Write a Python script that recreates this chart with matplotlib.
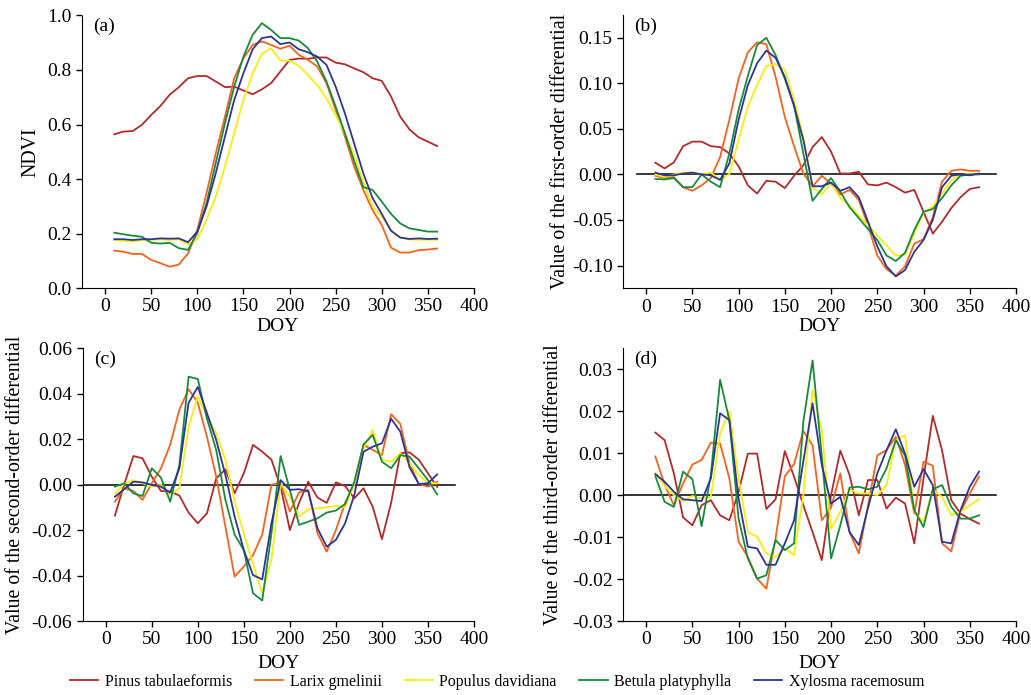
import numpy as np
import matplotlib
matplotlib.use('Agg')
from matplotlib import pyplot as plt
from matplotlib.ticker import FormatStrFormatter, MultipleLocator

plt.rcParams['font.family'] = ['Liberation Serif', 'DejaVu Serif']

doy = [10, 20, 30, 40, 50, 60, 70, 80, 90, 100, 110, 120, 130, 140, 150, 160, 170, 180,
       190, 200, 210, 220, 230, 240, 250, 260, 270, 280, 290, 300, 310, 320, 330, 340, 350, 360]

species = ['Pinus tabulaeformis', 'Larix gmelinii', 'Populus davidiana',
           'Betula platyphylla', 'Xylosma racemosum']
colors = ['#B22A2A', '#F4621F', '#F8EC10', '#188A3C', '#2E3595']

############################ (a) NDVI ############################
ndvi_pinus = [0.564, 0.574, 0.576, 0.599, 0.635, 0.668, 0.709, 0.737, 0.770, 0.778, 0.778, 0.758,
              0.737, 0.739, 0.725, 0.711, 0.729, 0.752, 0.794, 0.837, 0.842, 0.841, 0.846, 0.846,
              0.827, 0.821, 0.806, 0.792, 0.770, 0.760, 0.703, 0.629, 0.582, 0.553, 0.537, 0.521]
ndvi_larix = [0.137, 0.133, 0.125, 0.125, 0.103, 0.091, 0.078, 0.086, 0.127, 0.213, 0.348, 0.494,
              0.629, 0.770, 0.843, 0.892, 0.905, 0.892, 0.878, 0.889, 0.856, 0.837, 0.813, 0.752,
              0.654, 0.556, 0.446, 0.360, 0.286, 0.231, 0.148, 0.130, 0.130, 0.139, 0.141, 0.145]
ndvi_populus = [0.176, 0.173, 0.170, 0.176, 0.176, 0.179, 0.176, 0.179, 0.160, 0.179, 0.250, 0.335,
                0.446, 0.568, 0.690, 0.788, 0.859, 0.880, 0.834, 0.834, 0.815, 0.782, 0.745, 0.696,
                0.635, 0.568, 0.488, 0.390, 0.299, 0.262, 0.213, 0.185, 0.178, 0.177, 0.177, 0.177]
ndvi_betula = [0.203, 0.197, 0.192, 0.188, 0.166, 0.163, 0.166, 0.146, 0.140, 0.201, 0.311, 0.458,
               0.605, 0.739, 0.849, 0.929, 0.972, 0.947, 0.917, 0.917, 0.908, 0.880, 0.831, 0.758,
               0.666, 0.568, 0.466, 0.370, 0.360, 0.317, 0.272, 0.237, 0.219, 0.213, 0.207, 0.207]
ndvi_xylosma = [0.179, 0.179, 0.176, 0.179, 0.179, 0.182, 0.181, 0.182, 0.168, 0.207, 0.299, 0.421,
                0.556, 0.690, 0.788, 0.876, 0.917, 0.923, 0.895, 0.901, 0.876, 0.865, 0.849, 0.819,
                0.739, 0.641, 0.531, 0.421, 0.330, 0.272, 0.210, 0.185, 0.180, 0.182, 0.180, 0.181]

############################ (b) first-order ############################
d1_pinus = [0.0128, 0.0066, 0.0132, 0.031, 0.036, 0.036, 0.031, 0.030, 0.023, 0.009, -0.012, -0.021,
            -0.007, -0.008, -0.015, -0.0015, 0.010, 0.030, 0.041, 0.025, 0.001, 0.001, 0.003, -0.011,
            -0.012, -0.009, -0.014, -0.020, -0.017, -0.041, -0.065, -0.052, -0.037, -0.025, -0.016, -0.014]
d1_larix = [-0.0015, -0.004, -0.003, -0.014, -0.018, -0.012, -0.004, 0.019, 0.060, 0.105, 0.134, 0.145,
            0.143, 0.107, 0.063, 0.031, 0.001, -0.013, -0.0015, -0.010, -0.022, -0.017, -0.028, -0.056,
            -0.089, -0.104, -0.111, -0.101, -0.076, -0.071, -0.047, -0.008, 0.004, 0.0055, 0.004, 0.004]
d1_populus = [0.0, -0.003, 0.0, 0.002, 0.002, 0.0004, 0.002, -0.006, 0.0004, 0.038, 0.074, 0.098,
              0.119, 0.121, 0.115, 0.082, 0.041, -0.014, -0.022, -0.009, -0.026, -0.034, -0.045, -0.056,
              -0.067, -0.078, -0.089, -0.088, -0.065, -0.042, -0.035, -0.021, -0.006, -0.001, 0.001, 0.0]
d1_betula = [-0.005, -0.0055, -0.004, -0.014, -0.014, 0.0, -0.008, -0.014, 0.023, 0.071, 0.108, 0.142,
             0.150, 0.131, 0.105, 0.076, 0.023, -0.029, -0.016, -0.004, -0.019, -0.036, -0.048, -0.060,
             -0.072, -0.089, -0.095, -0.086, -0.061, -0.041, -0.038, -0.026, -0.012, -0.0015, 0.0, 0.0]
d1_xylosma = [0.002, -0.001, -0.001, 0.001, 0.002, 0.0, -0.001, -0.006, 0.012, 0.060, 0.098, 0.122,
              0.136, 0.128, 0.107, 0.075, 0.038, -0.013, -0.013, -0.009, -0.018, -0.014, -0.025, -0.052,
              -0.079, -0.101, -0.112, -0.105, -0.085, -0.072, -0.050, -0.014, -0.0015, 0.0, -0.001, 0.001]

############################ (c) second-order ############################
d2_pinus = [-0.0136, 0.0, 0.0126, 0.0116, 0.0035, -0.0028, -0.003, -0.0048, -0.0123, -0.017, -0.0126, 0.0028,
            0.0067, -0.0038, 0.005, 0.0175, 0.0145, 0.011, -0.001, -0.020, -0.008, 0.0013, -0.0057, -0.008,
            0.001, -0.0006, -0.006, -0.0016, -0.0097, -0.024, -0.008, 0.0138, 0.0142, 0.011, 0.005, -0.001]
d2_larix = [-0.0075, -0.0016, -0.0028, -0.0067, 0.0006, 0.0072, 0.0175, 0.033, 0.042, 0.036, 0.021, 0.0035,
            -0.0185, -0.0405, -0.036, -0.031, -0.022, 0.0, 0.0006, -0.0119, -0.0034, -0.0023, -0.0214, -0.0295,
            -0.020, -0.008, 0.0, 0.0175, 0.0153, 0.013, 0.031, 0.0267, 0.0094, 0.0003, -0.0009, 0.0013]
d2_populus = [-0.0038, 0.0003, 0.002, 0.0006, -0.0009, -0.0001, -0.0045, -0.0016, 0.0255, 0.039, 0.030, 0.0226,
              0.011, -0.0075, -0.0214, -0.035, -0.0478, -0.033, 0.0006, -0.0053, -0.014, -0.0109, -0.0104, -0.010,
              -0.0094, -0.010, 0.0006, 0.016, 0.024, 0.0109, 0.0101, 0.0138, 0.0094, 0.0043, 0.0006, 0.0006]
d2_betula = [-0.0009, 0.0006, -0.0038, -0.005, 0.0072, 0.0031, -0.0075, 0.0087, 0.0475, 0.0465, 0.029, 0.0153,
             -0.0067, -0.022, -0.0288, -0.0478, -0.051, -0.0214, 0.0126, -0.0023, -0.0177, -0.0163, -0.0148, -0.0123,
             -0.0114, -0.0085, 0.0013, 0.0177, 0.0219, 0.0101, 0.0072, 0.013, 0.0123, 0.0072, 0.002, -0.0043]
d2_xylosma = [-0.0053, -0.002, 0.0013, 0.001, -0.0001, -0.0009, -0.0035, 0.0072, 0.036, 0.043, 0.0314, 0.0197,
              0.0043, -0.014, -0.0288, -0.0398, -0.0417, -0.017, 0.002, -0.0023, -0.002, -0.003, -0.0192, -0.0273,
              -0.0243, -0.017, -0.0045, 0.0145, 0.0167, 0.0182, 0.029, 0.0233, 0.0076, 0.0003, 0.0006, 0.0045]

############################ (d) third-order ############################
d3_pinus = [0.0149, 0.0131, 0.0052, -0.0053, -0.0072, -0.0024, -0.0012, -0.0048, -0.006, 0.0008, 0.0099, 0.0099,
            -0.0033, -0.001, 0.0105, 0.0044, -0.0024, -0.0088, -0.0155, 0.0, 0.0106, 0.0048, -0.0048, 0.0036,
            0.0036, -0.0032, -0.0006, -0.002, -0.0115, 0.004, 0.0189, 0.0107, -0.0012, -0.0044, -0.0057, -0.0068]
d3_larix = [0.0092, 0.0025, -0.0024, 0.0028, 0.0073, 0.0084, 0.0125, 0.0123, 0.004, -0.0111, -0.0147, -0.0199,
            -0.0223, -0.0103, 0.0045, 0.0074, 0.0153, 0.0119, -0.006, -0.003, 0.0052, -0.0088, -0.0139, -0.0024,
            0.0095, 0.0107, 0.0139, 0.0072, -0.0044, 0.008, 0.007, -0.0115, -0.0134, -0.004, 0.0004, 0.0044]
d3_populus = [0.0053, 0.0022, 0.0, -0.0014, -0.0002, -0.0008, -0.0004, 0.0147, 0.0201, 0.004, -0.0088, -0.0099,
              -0.0139, -0.0147, -0.0127, -0.0143, 0.0, 0.0251, 0.0155, -0.008, -0.004, 0.0014, 0.0004, 0.0004,
              0.0, 0.0024, 0.0131, 0.0143, -0.004, -0.0064, 0.0012, -0.0004, -0.0048, -0.004, -0.0024, -0.001]
d3_betula = [0.0045, -0.0016, -0.0028, 0.0056, 0.0038, -0.0074, 0.0048, 0.0275, 0.0179, -0.0056, -0.0151, -0.0199,
             -0.0191, -0.0107, -0.0131, -0.0115, 0.0175, 0.0321, 0.0092, -0.0151, -0.0072, 0.0018, 0.002, 0.0014,
             0.002, 0.0064, 0.0131, 0.0095, -0.0036, -0.0076, 0.0014, 0.0024, -0.0028, -0.0056, -0.0056, -0.0048]
d3_xylosma = [0.005, 0.0032, 0.0008, -0.001, -0.0012, -0.0014, 0.004, 0.0195, 0.0179, -0.0008, -0.0123, -0.0127,
              -0.0166, -0.0166, -0.0115, -0.006, 0.008, 0.0219, 0.0072, -0.002, -0.0004, -0.0088, -0.0119, -0.003,
              0.0052, 0.0107, 0.0157, 0.0099, 0.002, 0.0062, 0.0024, -0.0111, -0.0115, -0.0036, 0.002, 0.0056]

panels = [
    ('(a)', 'NDVI', [ndvi_pinus, ndvi_larix, ndvi_populus, ndvi_betula, ndvi_xylosma],
     (0.0, 1.0), 0.2, '%.1f', None),
    ('(b)', 'Value of the first-order differential', [d1_pinus, d1_larix, d1_populus, d1_betula, d1_xylosma],
     (-0.125, 0.175), 0.05, '%.2f', (-10, 378)),
    ('(c)', 'Value of the second-order differential', [d2_pinus, d2_larix, d2_populus, d2_betula, d2_xylosma],
     (-0.06, 0.06), 0.02, '%.2f', (-25, 379)),
    ('(d)', 'Value of the third-order differential', [d3_pinus, d3_larix, d3_populus, d3_betula, d3_xylosma],
     (-0.03, 0.035), 0.01, '%.2f', (-25, 378)),
]

W, H = 1031, 695
# axes boxes in pixels: left, top, right, bottom
boxes = [(82, 15.5, 474, 288), (623, 15, 1016, 288.3), (82.7, 348.3, 474, 621), (623, 348.3, 1016, 621)]
ylab_x = [-0.107, -0.134, -0.147, -0.153]
xlab_y = [-0.11, -0.11, -0.125, -0.125]

fig = plt.figure(figsize=(W / 100, H / 100), dpi=100)
axes = []
for i, (tag, ylab, series, ylim, step, fmt, zline) in enumerate(panels):
    l, t, r, b = boxes[i]
    ax = fig.add_axes([l / W, 1 - b / H, (r - l) / W, (b - t) / H])
    for vals, name, c in zip(series, species, colors):
        ax.plot(doy, vals, color=c, lw=1.3, label=name)
    if zline is not None:
        ax.plot(zline, [0, 0], color='black', lw=1.1, zorder=1)
    ax.set_xlim(-25, 400)
    ax.set_ylim(*ylim)
    ax.xaxis.set_major_locator(MultipleLocator(50))
    ax.yaxis.set_major_locator(MultipleLocator(step))
    ax.yaxis.set_major_formatter(FormatStrFormatter(fmt))
    ax.spines['top'].set_visible(False)
    ax.spines['right'].set_visible(False)
    ax.tick_params(labelsize=14, length=4, width=1)
    ax.set_xlabel('DOY', fontsize=14)
    ax.set_ylabel(ylab, fontsize=14.3)
    ax.yaxis.set_label_coords(ylab_x[i], 0.5)
    ax.xaxis.set_label_coords(0.5, xlab_y[i])
    ax.text(0.028, 0.96, tag, transform=ax.transAxes, fontsize=14, va='center', ha='left')
    axes.append(ax)

handles, labels = axes[0].get_legend_handles_labels()
fig.legend(handles, labels, loc='center', bbox_to_anchor=(0.482, 1 - 682 / H), ncol=5,
           frameon=False, fontsize=11.5, handlelength=1.8, handletextpad=0.4, columnspacing=1.4,
           borderpad=0.1)

fig.savefig('out.png', dpi=100)
